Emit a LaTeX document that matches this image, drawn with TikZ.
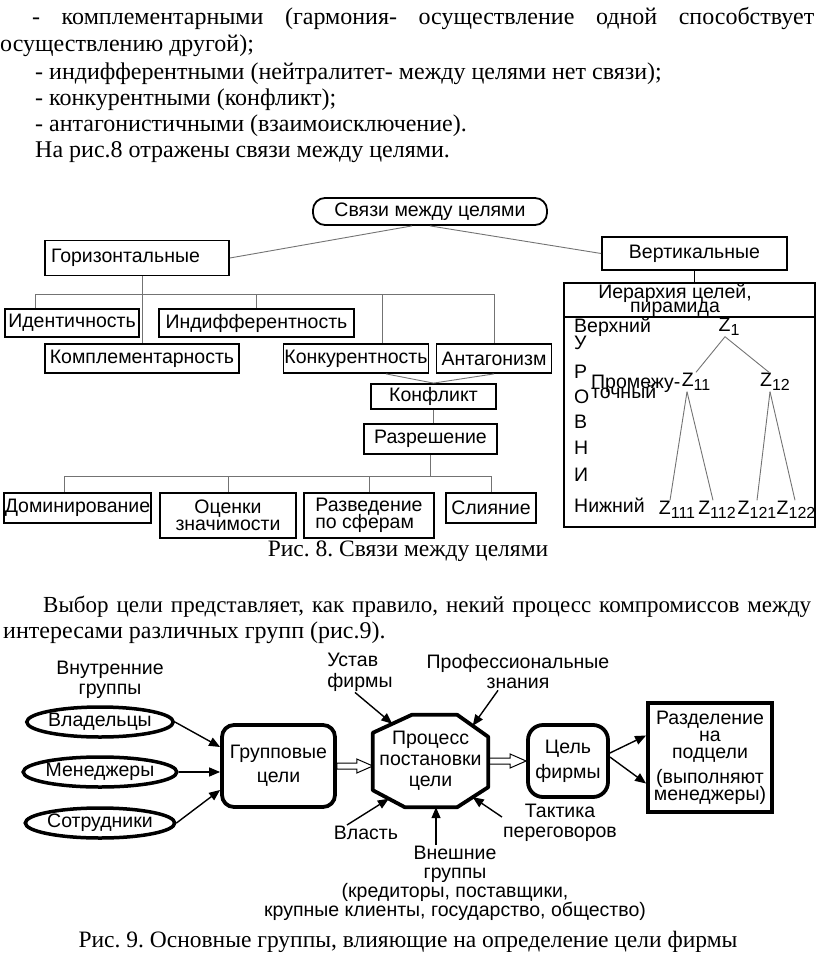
\documentclass[tikz,border=0pt]{standalone}
\usepackage{fontspec}
\setmainfont{Liberation Serif}
\setsansfont{Liberation Sans}
\usetikzlibrary{calc,positioning,shapes.geometric,arrows.meta}
\frenchspacing

\newcommand\bodyfont{\rmfamily\fontsize{24}{26}\selectfont}
\newcommand\capfont{\rmfamily\fontsize{23.5}{26}\selectfont}
\newcommand\dfont[1]{\sffamily\fontsize{19.5}{#1}\selectfont\lineskiplimit=-50pt\relax}
\newcommand\zsub[1]{Z\raisebox{-0.35ex}{\fontsize{16}{16}\selectfont #1}}
\newcommand\hollowarrow[2]{%
  \draw[line width=1pt] let \p1=(#1), \p2=(#2) in
    (\x1,\y1+3pt) -- (\x2-16pt,\y1+3pt) -- (\x2-16pt,\y1+7pt) -- (\x2,\y1)
    -- (\x2-16pt,\y1-7pt) -- (\x2-16pt,\y1-3pt) -- (\x1,\y1-3pt) -- cycle;}

\tikzset{
  box/.style={draw, line width=1.8pt, inner sep=1pt, font=\dfont{17}, align=center},
  link/.style={draw=black!55, line width=0.9pt},
  lbl/.style={inner sep=1pt, font=\dfont{20}, align=center},
  oval/.style={ellipse, draw, line width=3.5pt, inner sep=0pt, minimum width=145pt, minimum height=30pt, font=\dfont{20}},
  fat/.style={draw, line width=3.8pt, inner sep=1pt, align=center},
  arr/.style={-{Triangle[length=11pt,width=9pt]}, line width=1.4pt},
  txt/.style={inner sep=0pt, anchor=base west, font=\bodyfont},
}

\begin{document}
\begin{tikzpicture}[x=1pt, y=-1pt]
\useasboundingbox (0,0) rectangle (816,957);

% text before the figures
\node[txt] (p1) at (32,25) {\makebox[782pt][s]{- комплементарными (гармония- осуществление одной способствует}};
\node[txt] (p2) at (0,52) {осуществлению другой);};
\node[txt] (p3) at (35,80) {- индифферентными (нейтралитет- между целями нет связи);};
\node[txt] (p4) at (35,106) {- конкурентными (конфликт);};
\node[txt] (p5) at (35,132) {- антагонистичными (взаимоисключение).};
\node[txt] (p6) at (35,158) {На рис.8 отражены связи между целями.};

% fig. 8
\node[box, rounded corners=12pt, minimum width=234pt, minimum height=27pt] (top) at (430,211.5) {Связи между целями};
\node[box, minimum width=184pt, minimum height=35pt, text width=172pt, align=left, inner xsep=6pt] (hor) at (137,258) {Горизонтальные};
\node[box, minimum width=185pt, minimum height=33pt] (vert) at (694.5,253.5) {Вертикальные};
\node[box, minimum width=134pt, minimum height=28pt] (ident) at (72,323) {Идентичность};
\node[box, minimum width=195pt, minimum height=28pt] (indif) at (256.5,323) {Индифферентность};
\node[box, minimum width=194pt, minimum height=29pt] (kompl) at (142,358.5) {Комплементарность};
\node[box, minimum width=142pt, minimum height=29pt] (konk) at (356,358.5) {Конкурентность};
\node[box, minimum width=115pt, minimum height=29pt] (antag) at (494,358.5) {Антагонизм};
\node[box, minimum width=125pt, minimum height=25pt] (konf) at (433.5,396.5) {Конфликт};
\node[box, minimum width=133pt, minimum height=30pt] (razr) at (430.5,439) {Разрешение};
\node[box, minimum width=145pt, minimum height=30pt] (domin) at (77.5,508) {Доминирование};
\node[box, minimum width=136pt, minimum height=45pt] (ocen) at (228,515.5) {Оценки\\значимости};
\node[box, minimum width=130pt, minimum height=45pt, align=left] (razv) at (369,515.5) {Разведение\\по сферам};
\node[box, minimum width=90pt, minimum height=30pt] (sliy) at (491,508) {Слияние};

\draw[link] ([xshift=-18pt]top.south) -- (hor.east);
\draw[link] (top.south) -- (vert.west);
\coordinate (hbar) at (0,294);
\coordinate (idrop) at ([xshift=31pt]ident.north west);
\coordinate (kdrop) at ([xshift=26pt]konk.north);
\draw[link] (hor.south -| kompl.north) -- (kompl.north);
\draw[link] (idrop) -- (idrop |- hbar) -- (antag.north |- hbar) -- (antag.north);
\draw[link] (indif.north) -- (indif.north |- hbar);
\draw[link] (kdrop) -- (kdrop |- hbar);
\draw[link] ([xshift=30pt]konk.south) -- (konf.north);
\draw[link] (antag.south) -- (konf.north);
\draw[link] (konf.south) -- (konf.south |- razr.north);
\coordinate (rbar) at (0,476);
\coordinate (ddrop) at ([xshift=-13pt]domin.north);
\draw[link] (razr.south) -- (razr.south |- rbar);
\draw[link] (ddrop) -- (ddrop |- rbar) -- (sliy.north |- rbar) -- (sliy.north);
\draw[link] (ocen.north) -- (ocen.north |- rbar);
\draw[link] (razv.north) -- (razv.north |- rbar);

% pyramid of goals
\node[box, minimum width=251pt, minimum height=244pt] (hier) at (689.5,405) {};
\draw[line width=1.8pt] (vert.south) -- (vert.south |- hier.north);
\coordinate (hsep) at (0,317);
\draw[line width=1.8pt] (hier.west |- hsep) -- (hier.east |- hsep);
\node[lbl, font=\dfont{14}] (head) at (675,300) {Иерархия целей,\\пирамида};
\node[lbl, anchor=west] (upper) at (573,327) {Верхний};
\foreach \t/\yy in {У/343, Р/372, О/397, В/422, Н/448, И/475}
  \node[lbl, anchor=west] (lev-\yy) at (573,\yy) {\t};
\node[lbl, anchor=west] (lower) at (573,505) {Нижний};
\node[lbl, anchor=west, align=left, font=\dfont{10}] (mid) at (590,387) {Промежу-\\точный};
\node[lbl] (z1) at (729,327) {\zsub{1}};
\node[lbl] (z11) at (696,382) {\zsub{11}};
\node[lbl] (z12) at (775,382) {\zsub{12}};
\node[lbl] (z111) at (677,510) {\zsub{111}};
\node[lbl] (z112) at (717,510) {\zsub{112}};
\node[lbl] (z121) at (757,510) {\zsub{121}};
\node[lbl] (z122) at (796,510) {\zsub{122}};
\draw[link] ([xshift=-4pt]z1.south) -- (z11.north);
\draw[link] ([xshift=-4pt]z1.south) -- ([xshift=-6pt]z12.north);
\draw[link] ([xshift=-9pt]z11.south) -- ([xshift=-7pt]z111.north);
\draw[link] ([xshift=-9pt]z11.south) -- ([xshift=-4pt]z112.north);
\draw[link] ([xshift=-5pt]z12.south) -- (z121.north);
\draw[link] ([xshift=-5pt]z12.south) -- ([xshift=-1pt]z122.north);

\node[font=\capfont, inner sep=0pt, anchor=base] (cap8) at (408,556) {Рис. 8. Связи между целями};

% text between the figures
\node[txt, font=\fontsize{23}{26}\selectfont] (q1) at (43,612) {\makebox[768pt][s]{Выбор цели представляет, как правило, некий процесс компромиссов между}};
\node[txt] (q2) at (3,638) {интересами различных групп (рис.9).};

% fig. 9
\node[lbl] (inner) at (110,680) {Внутренние\\группы};
\node[oval] (own) at (100,722) {Владельцы};
\node[oval] (mgr) at (100,772) {Менеджеры};
\node[oval] (emp) at (100,823) {Сотрудники};
\node[fat, rounded corners=12pt, minimum width=113pt, minimum height=82pt, font=\dfont{24}] (grp) at (278.5,766) {Групповые\\цели};
\node[inner sep=1pt, align=center, minimum width=115pt, minimum height=92pt, font=\dfont{21}] (proc) at (430.5,761) {Процесс\\постановки\\цели};
\coordinate (o1) at ([xshift=39pt]proc.north west);
\coordinate (o2) at ([xshift=-31pt]proc.north east);
\coordinate (o3) at ([yshift=-22pt]proc.north east);
\coordinate (o4) at ([yshift=20pt]proc.south east);
\coordinate (o5) at ([xshift=-31pt]proc.south east);
\coordinate (o6) at ([xshift=32pt]proc.south west);
\coordinate (o7) at ([yshift=17pt]proc.south west);
\coordinate (o8) at ([yshift=-18pt]proc.north west);
\draw[line width=3.8pt, line join=round] (o1) -- (o2) -- (o3) -- (o4) -- (o5) -- (o6) -- (o7) -- (o8) -- cycle;
\node[fat, rounded corners=15pt, minimum width=80pt, minimum height=72pt, font=\dfont{25}] (goal) at (568,761) {Цель\\фирмы};
\node[fat, minimum width=124pt, minimum height=109pt, font=\dfont{17}] (split) at (710,757.5) {Разделение\\на\\подцели\\[8pt](выполняют\\менеджеры)};
\node[lbl, align=left, font=\dfont{21}] (charter) at (360,672) {Устав\\фирмы};
\node[lbl] (prof) at (518,672) {Профессиональные\\знания};
\node[lbl] (power) at (366,833) {Власть};
\node[lbl] (tact) at (560,823) {Тактика\\переговоров};
\node[lbl, font=\dfont{19}] (ext) at (455,883.5) {Внешние\\группы\\(кредиторы, поставщики,\\крупные клиенты, государство, общество)};

\draw[arr] (own.east) -- ([yshift=19pt]grp.west);
\draw[arr] (mgr.east) -- (mgr.east -| grp.west);
\draw[arr] (emp.east) -- ([yshift=-24pt]grp.west);
\hollowarrow{grp.east}{proc.west}
\hollowarrow{proc.east}{goal.west}
\draw[arr] ([yshift=8pt]goal.east) -- ([yshift=22pt]split.west);
\draw[arr] ([yshift=4pt]goal.east) -- ([yshift=-26pt]split.west);
\draw[arr] ([xshift=-5pt]charter.south) -- ($(o8)!.5!(o1)$);
\draw[arr] ([xshift=-20pt]prof.south) -- ($(o2)!.5!(o3)$);
\draw[arr] ([xshift=-19pt]power.north) -- ($(o6)!.5!(o7)$);
\draw[arr] ([yshift=6pt]tact.west) -- ($(o4)!.5!(o5)$);
\draw[arr] (ext.north -| 436,0) -- (o5 -| 436,0);

\node[font=\capfont, inner sep=0pt, anchor=base] (cap9) at (408,947) {Рис. 9. Основные группы, влияющие на определение цели фирмы};
\end{tikzpicture}
\end{document}
